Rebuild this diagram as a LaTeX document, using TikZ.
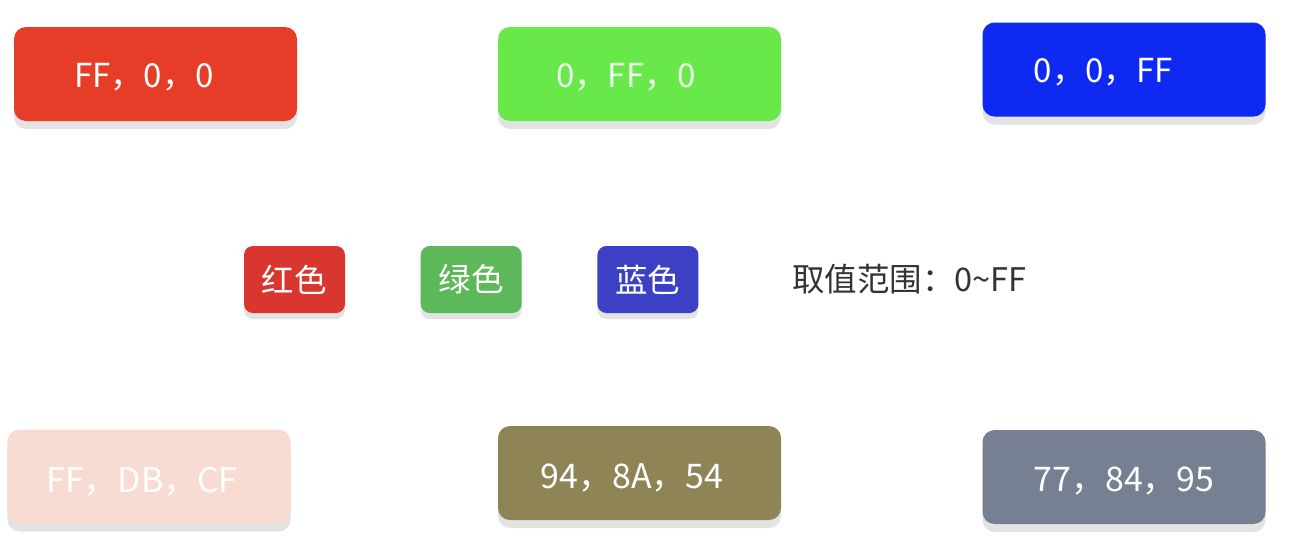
\documentclass[tikz,border=0pt]{standalone}
\usepackage{fontspec}
\newfontfamily\cjk{Noto Sans CJK SC}
\usetikzlibrary{positioning,shadows}
\definecolor{redTopC}{HTML}{E53D27}
\definecolor{greenTopC}{HTML}{69E84A}
\definecolor{blueTopC}{HTML}{0E29F2}
\definecolor{redSmC}{HTML}{D9362F}
\definecolor{greenSmC}{HTML}{5DB85A}
\definecolor{blueSmC}{HTML}{3B40C5}
\definecolor{pinkBotC}{HTML}{F8DCD3}
\definecolor{oliveBotC}{HTML}{8E8455}
\definecolor{grayBotC}{HTML}{778093}
\definecolor{rangeC}{HTML}{333333}
\tikzset{
  boxshade/.style={drop shadow={shadow xshift=0pt, shadow yshift=-0.16cm,
    fill=black!11, opacity=1}},
  bigbox/.style={
    rounded corners=0.24cm, minimum width=5.66cm, minimum height=1.88cm,
    inner sep=0pt, boxshade,
  },
  smallbox/.style={
    rounded corners=0.18cm, minimum width=2.02cm, minimum height=1.34cm,
    inner sep=0pt, text=white, font=\cjk\fontsize{18.5}{22}\selectfont,
    drop shadow={shadow xshift=0pt, shadow yshift=-0.12cm,
      fill=black!11, opacity=1},
  },
  toptxt/.style={text=white, font=\cjk\fontsize{18.8}{22}\selectfont},
  bottxt/.style={text=white, font=\cjk\fontsize{19.3}{23}\selectfont},
}
\begin{document}
\begin{tikzpicture}
  \useasboundingbox[fill=white] (0,0) rectangle (25.84,-10.82);

  % pure colours
  \node[bigbox, fill=redTopC] (redTop) at (3.11,-1.48) {};
  \node[bigbox, fill=greenTopC] (greenTop) at (12.79,-1.48) {};
  \node[bigbox, fill=blueTopC] (blueTop) at (22.48,-1.39) {};
  \node[toptxt] (redTopTxt) at ([xshift=-0.23cm,yshift=-0.07cm]redTop.center) {FF，0，0};
  \node[toptxt, text=white!92!green] (greenTopTxt) at ([xshift=-0.27cm,yshift=-0.07cm]greenTop.center) {0，FF，0};
  \node[toptxt] (blueTopTxt) at ([xshift=-0.41cm,yshift=-0.05cm]blueTop.center) {0，0，FF};

  % channels
  \node[smallbox, fill=redSmC] (redSm) at (5.89,-5.59) {红色};
  \node[smallbox, fill=greenSmC, right=1.5cm of redSm] (greenSm) {绿色};
  \node[smallbox, fill=blueSmC, right=1.5cm of greenSm] (blueSm) {蓝色};
  \node[right=1.86cm of blueSm, inner sep=0pt, text=rangeC,
    font=\cjk\fontsize{18.5}{22}\selectfont] (range) {取值范围：0\textasciitilde FF};

  % mixed colours
  \node[bigbox, fill=pinkBotC] (pinkBot) at (2.98,-9.53) {};
  \node[bigbox, fill=oliveBotC] (oliveBot) at (12.79,-9.46) {};
  \node[bigbox, fill=grayBotC] (grayBot) at (22.48,-9.54) {};
  \node[bottxt] (pinkBotTxt) at ([xshift=-0.14cm,yshift=-0.1cm]pinkBot.center) {FF，DB，CF};
  \node[bottxt] (oliveBotTxt) at ([xshift=-0.15cm,yshift=-0.1cm]oliveBot.center) {94，8A，54};
  \node[bottxt] (grayBotTxt) at ([yshift=-0.08cm]grayBot.center) {77，84，95};

\end{tikzpicture}
\end{document}
